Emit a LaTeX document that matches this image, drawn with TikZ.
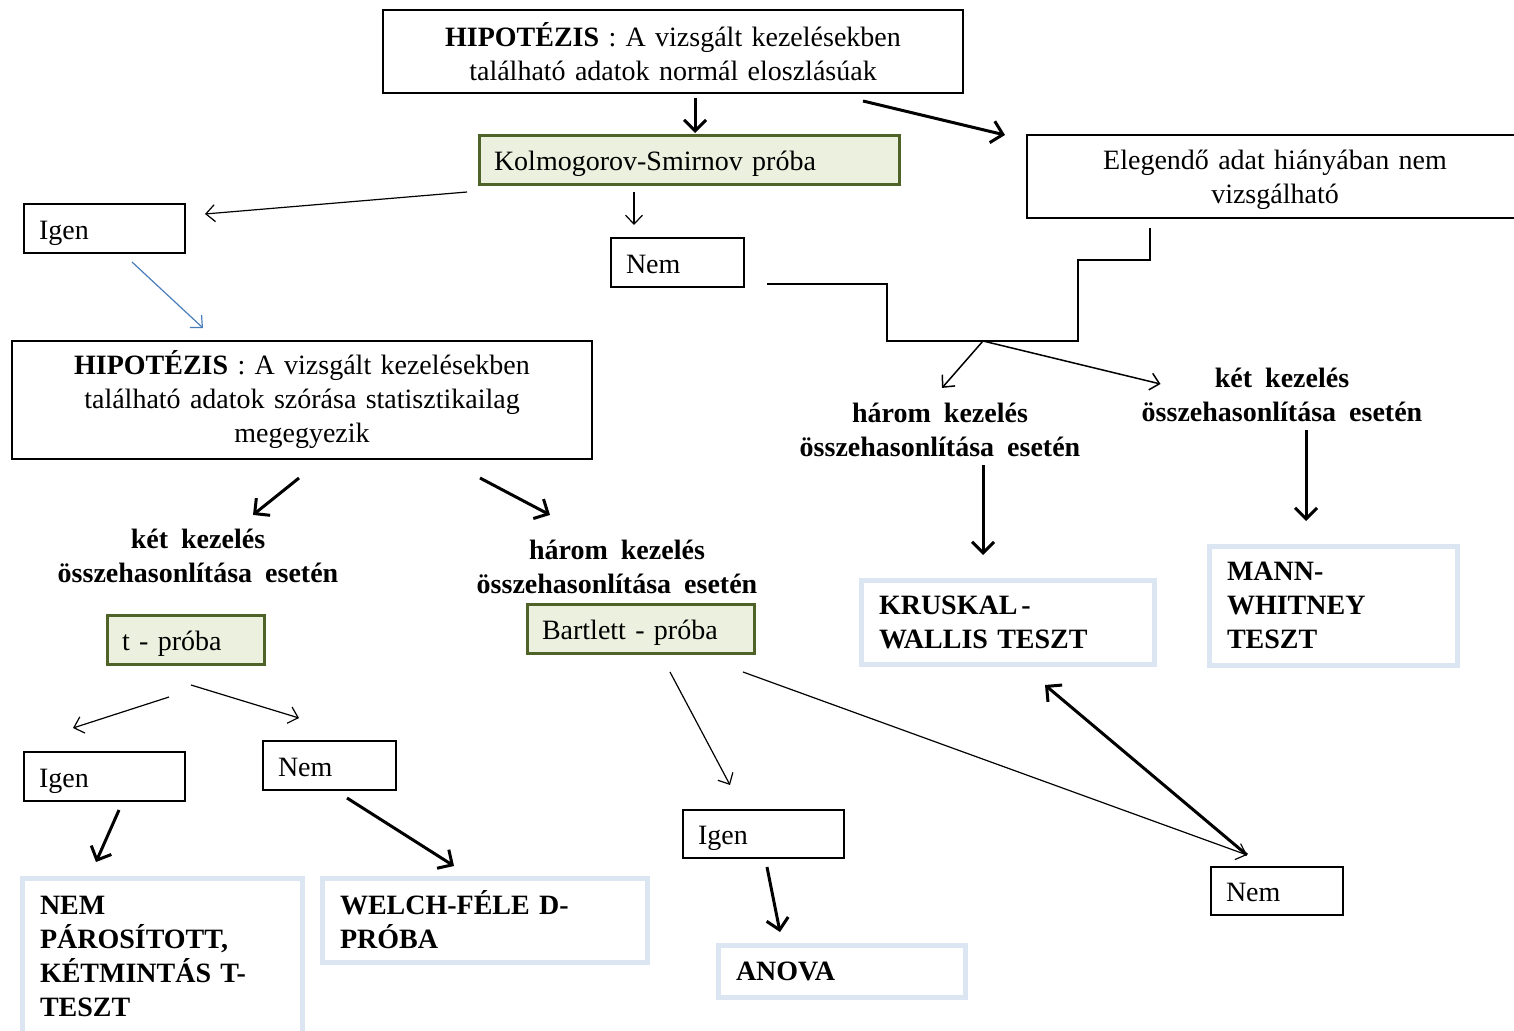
\documentclass[tikz,border=0pt]{standalone}
\usepackage{fontspec}
\setmainfont{Liberation Serif}
\usetikzlibrary{arrows.meta}

\definecolor{ksgreen}{RGB}{79,98,40}
\definecolor{ksfill}{RGB}{235,241,222}
\definecolor{resblue}{RGB}{220,230,242}
\definecolor{linkblue}{RGB}{74,126,187}
\newcommand{\boxfont}{\fontsize{28}{34}\selectfont\spaceskip=13pt plus 4pt minus 2pt}

\tikzset{
  plainbox/.style={draw, line width=1.6pt, anchor=north west, outer sep=0pt, inner xsep=15pt, inner ysep=0pt, align=left, font=\boxfont},
  onebox/.style={plainbox, text height=21pt, text depth=0pt},
  hypbox/.style={plainbox, align=center},
  testbox/.style={onebox, draw=ksgreen, fill=ksfill, line width=3pt},
  resbox/.style={plainbox, draw=resblue, line width=5pt, inner xsep=18pt, font=\boxfont\bfseries},
  casetext/.style={align=center, inner sep=0pt, font=\boxfont\bfseries},
  thinarrow/.style={->, >={Straight Barb[length=9pt,width=17pt]}, line width=1.2pt},
  thickarrow/.style={->, >={Straight Barb[length=11pt,width=22pt]}, line width=3pt},
}

\begin{document}
\begin{tikzpicture}[x=1pt,y=-1pt]
\path[use as bounding box, fill=white] (0,0) rectangle (1514,1030);

% Boxes
\node[hypbox, text width=550pt, minimum height=83pt] (hyp1) at (383,10) {\textbf{HIPOTÉZIS} : A vizsgált kezelésekben\\található adatok normál eloszlásúak};
\node[testbox, text width=390pt, minimum height=49pt] (ks) at (479,135) {Kolmogorov-Smirnov próba};
\node[hypbox, text width=466pt, minimum height=83pt, text depth=33pt] (eleg) at (1027,135) {Elegendő adat hiányában nem\\vizsgálható};
\node[onebox, text width=131pt, minimum height=49pt] (igen1) at (24,204) {Igen};
\node[onebox, text width=103pt, minimum height=49pt] (nem1) at (611,238) {Nem};
\node[hypbox, text width=550pt, minimum height=118pt] (hyp2) at (12,341) {\textbf{HIPOTÉZIS} : A vizsgált kezelésekben\\található adatok szórása statisztikailag\\megegyezik};

\node[casetext] (ket1) at (198,556) {két kezelés\\összehasonlítása esetén};
\node[casetext] (harom1) at (617,567) {három kezelés\\összehasonlítása esetén};
\node[casetext] (harom2) at (940,430) {három kezelés\\összehasonlítása esetén};
\node[casetext] (ket2) at (1282,395) {két kezelés\\összehasonlítása esetén};

\node[testbox, text width=127pt, minimum height=49pt] (tproba) at (107,615) {t - próba};
\node[testbox, text width=197pt, minimum height=49pt] (bartlett) at (527,604) {Bartlett - próba};
\node[onebox, text width=131pt, minimum height=49pt] (igen2) at (24,752) {Igen};
\node[onebox, text width=103pt, minimum height=49pt] (nem2) at (263,741) {Nem};
\node[onebox, text width=131pt, minimum height=48pt] (igen3) at (683,810) {Igen};
\node[onebox, text width=102pt, minimum height=48pt] (nem3) at (1211,867) {Nem};

% Result boxes
\node[resbox, text width=244pt, minimum height=156pt] (nempar) at (22,878) {NEM\\PÁROSÍTOTT,\\KÉTMINTÁS T-\\TESZT};
\node[resbox, text width=289pt, minimum height=84pt] (welch) at (322,878) {WELCH-FÉLE D-\\PRÓBA};
\node[resbox, text width=211pt, minimum height=52pt] (anova) at (718,945) {ANOVA};
\node[resbox, text width=257pt, minimum height=84pt] (kruskal) at (861,580) {KRUSKAL\hspace{4pt}-\\WALLIS TESZT};
\node[resbox, text width=212pt, minimum height=119pt] (mann) at (1209,546) {MANN-\\WHITNEY\\TESZT};

% Connectors
\draw[thickarrow] ([shift={(22,5)}]hyp1.south) -- ([shift={(6,-2)}]ks.north);
\draw[thickarrow] ([shift={(-100,8)}]hyp1.south east) -- ([shift={(-22,0)}]eleg.north west);
\draw[thinarrow] ([shift={(-12,8)}]ks.south west) -- ([shift={(20,10)}]igen1.north east);
\draw[thinarrow] ([shift={(-55,8)}]ks.south) -- ([shift={(23,-13)}]nem1.north west);
\draw[thinarrow, linkblue] ([shift={(27.5,9)}]igen1.south) -- ([shift={(-99,-13)}]hyp2.north);
\draw[thickarrow] ([shift={(-3,19)}]hyp2.south) -- ([shift={(55,-14)}]ket1.north);
\draw[thickarrow] ([shift={(178,19)}]hyp2.south) -- ([shift={(-67,-25)}]harom1.north);

\draw[thinarrow] ([shift={(-16.5,33)}]tproba.south) -- ([shift={(-31.5,-24)}]igen2.north);
\draw[thinarrow] ([shift={(5.5,21)}]tproba.south) -- ([shift={(-30.5,-23)}]nem2.north);
\draw[thickarrow] ([shift={(14.5,9)}]igen2.south) -- ([shift={(-66,-16)}]nempar.north);
\draw[thickarrow] ([shift={(17.5,8)}]nem2.south) -- ([shift={(-30.5,-12)}]welch.north);

\draw[thinarrow] ([shift={(29.5,19)}]bartlett.south) -- ([shift={(-33.5,-25)}]igen3.north);
\draw[thinarrow] ([shift={(102.5,19)}]bartlett.south) -- ([shift={(-30,-12)}]nem3.north);
\draw[thickarrow] ([shift={(3.5,9)}]igen3.south) -- ([shift={(-61.5,-13)}]anova.north);
\draw[thickarrow] ([shift={(-30,-12)}]nem3.north) -- ([shift={(37.5,21)}]kruskal.south);

% Non-parametric branch
\draw[line width=2.2pt] ([shift={(23,-3)}]nem1.south east) -| (887,341) -- (1078,341) |- (1150,260) -- ([shift={(-125,10)}]eleg.south);
\coordinate (split) at (983,341);
\draw[thinarrow, line width=1.5pt] (split) -- ([shift={(2,-15)}]harom2.north);
\draw[thinarrow, line width=1.5pt] (split) -- ([shift={(19,-11)}]ket2.west);
\draw[thickarrow] ([shift={(43,8)}]harom2.south) -- ([shift={(-24.5,-25)}]kruskal.north);
\draw[thickarrow] ([shift={(24,8)}]ket2.south) -- ([shift={(-27,-25)}]mann.north);

\end{tikzpicture}
\end{document}
